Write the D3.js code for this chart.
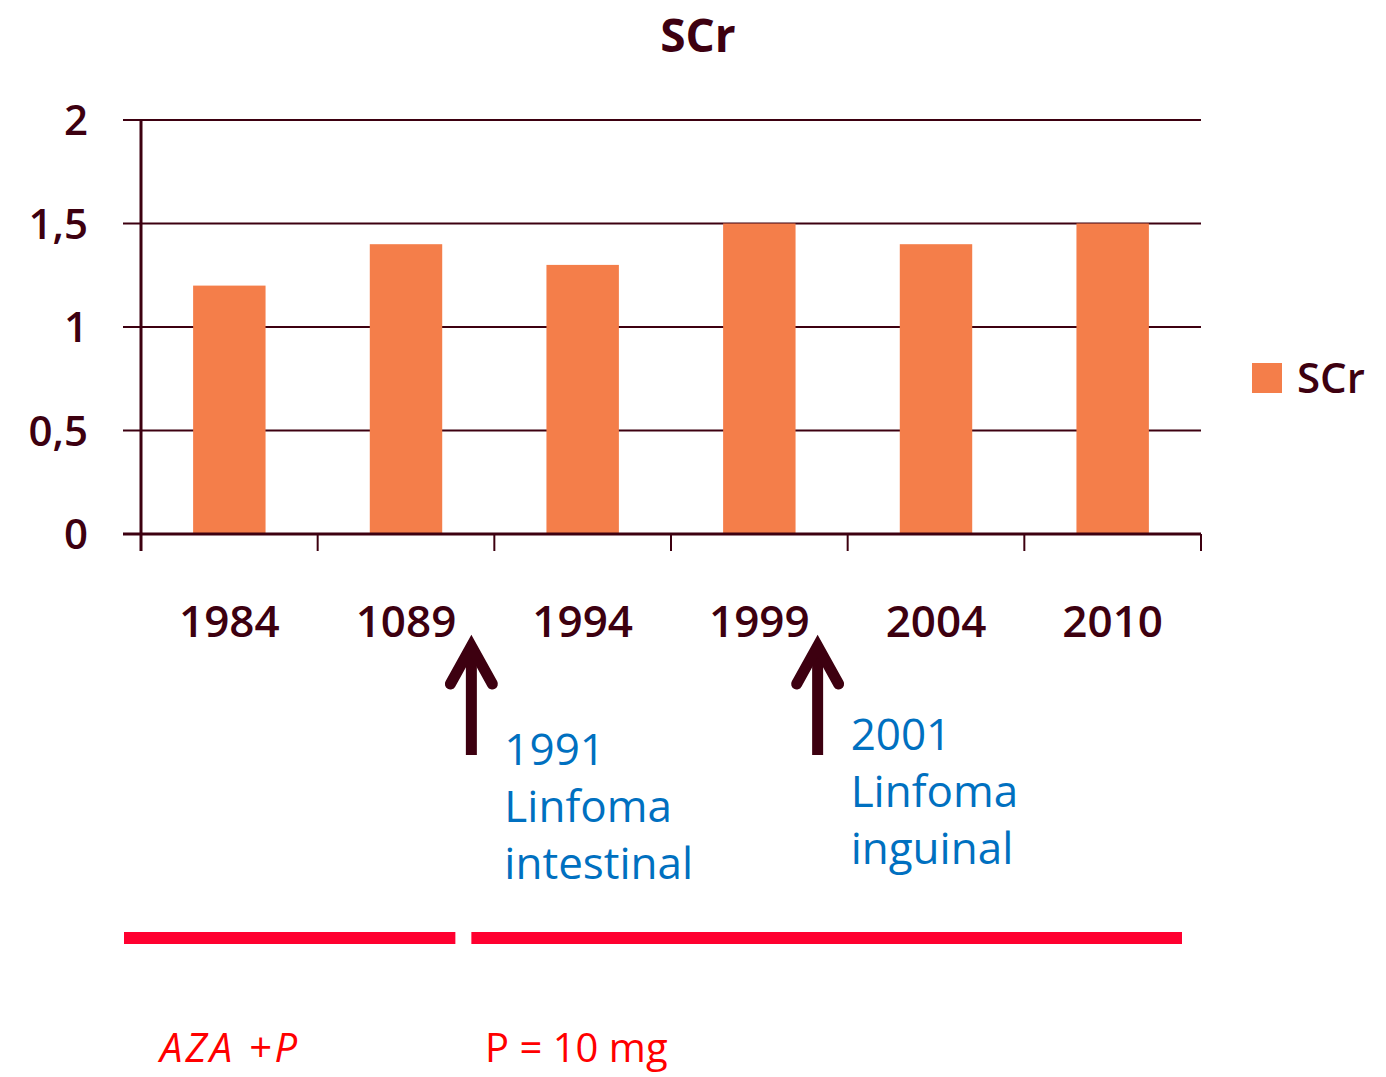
<!DOCTYPE html>
<meta charset="utf-8">
<style>
  body { margin: 0; background: #fff; }
  text { font-family: "Comic Sans MS", "Open Sans", "DejaVu Sans", sans-serif; }
</style>
<svg id="chart" width="1386" height="1077"></svg>
<script src="https://d3js.org/d3.v7.min.js"></script>
<script>
  // data
  var categories = ["1984", "1089", "1994", "1999", "2004", "2010"];
  var values = [1.2, 1.4, 1.3, 1.5, 1.4, 1.5];
  var yTicks = [0, 0.5, 1, 1.5, 2];
  var seriesName = "SCr";

  // events: placed after a category, at a fraction of its band
  var events = [
    {after: "1089", frac: 0.87, lines: ["1991", "Linfoma", "intestinal"]},
    {after: "1999", frac: 0.83, lines: ["2001", "Linfoma", "inguinal"]}
  ];
  var treatments = ["AZA +P", "P = 10 mg"];

  var dark = "#3d0010", orange = "#f47e4a", blue = "#0070c0", red = "#ff0030";

  var svg = d3.select("#chart"),
      margin = {top: 120, left: 141, right: 185},
      width = 1386 - margin.left - margin.right,
      height = 414;

  var x = d3.scaleBand().domain(categories).range([0, width]).paddingInner(0.59).paddingOuter(0.295),
      xb = d3.scaleBand().domain(categories).range([0, width]),
      y = d3.scaleLinear().domain([0, 2]).range([height, 0]);

  var g = svg.append("g").attr("transform", "translate(" + margin.left + "," + margin.top + ")");

  // title
  svg.append("text")
    .attr("x", 698).attr("y", 52)
    .attr("text-anchor", "middle")
    .style("font-size", "46px").style("font-weight", "bold")
    .attr("fill", dark)
    .text(seriesName);

  // grid
  g.selectAll(".grid").data(yTicks).enter().append("line")
    .attr("x1", -18).attr("x2", width)
    .attr("y1", function(d) { return y(d); }).attr("y2", function(d) { return y(d); })
    .attr("stroke", dark).attr("stroke-width", 2);

  // bars
  g.selectAll(".bar").data(values).enter().append("rect")
    .attr("x", function(d, i) { return x(categories[i]); })
    .attr("width", x.bandwidth())
    .attr("y", function(d) { return y(d); })
    .attr("height", function(d) { return height - y(d); })
    .attr("fill", orange);

  // axes lines
  g.append("line").attr("x1", 0).attr("x2", 0).attr("y1", 0).attr("y2", height + 17)
    .attr("stroke", dark).attr("stroke-width", 3);
  g.append("line").attr("x1", -18).attr("x2", width).attr("y1", height).attr("y2", height)
    .attr("stroke", dark).attr("stroke-width", 3);

  var bounds = categories.map(function(c) { return xb(c); }).concat([width]);
  g.selectAll(".xtick").data(bounds).enter().append("line")
    .attr("x1", function(d) { return d; }).attr("x2", function(d) { return d; })
    .attr("y1", height).attr("y2", height + 17)
    .attr("stroke", dark).attr("stroke-width", 2);

  // y labels
  g.selectAll(".ylab").data(yTicks).enter().append("text")
    .attr("x", -53).attr("y", function(d) { return y(d); })
    .attr("dy", "0.36em")
    .attr("text-anchor", "end")
    .style("font-size", "42px").style("font-weight", 600)
    .attr("fill", dark)
    .text(function(d) { return String(d).replace(".", ","); });

  // x labels
  g.selectAll(".xlab").data(categories).enter().append("text")
    .attr("x", function(d) { return xb(d) + xb.bandwidth() / 2; })
    .attr("y", height + 103)
    .attr("text-anchor", "middle")
    .style("font-size", "44px").style("font-weight", 600)
    .attr("fill", dark)
    .text(function(d) { return d; });

  // legend
  svg.append("rect").attr("x", 1252).attr("y", 363).attr("width", 30).attr("height", 30).attr("fill", orange);
  svg.append("text").attr("x", 1297).attr("y", 393)
    .style("font-size", "42px").style("font-weight", 600).attr("fill", dark).text(seriesName);

  // events
  events.forEach(function(e, k) {
    var ax = margin.left + xb(e.after) + e.frac * xb.bandwidth();
    svg.append("line").attr("x1", ax).attr("x2", ax).attr("y1", 755).attr("y2", 646)
      .attr("stroke", dark).attr("stroke-width", 11);
    svg.append("path")
      .attr("d", "M" + (ax - 21) + "," + 684 + "L" + ax + "," + 646 + "L" + (ax + 21) + "," + 684)
      .attr("fill", "none").attr("stroke", dark).attr("stroke-width", 11)
      .attr("stroke-linecap", "round").attr("stroke-linejoin", "miter");
    var t = svg.append("text")
      .attr("y", k === 0 ? 765 : 750)
      .style("font-size", "44px").attr("fill", blue);
    e.lines.forEach(function(s, i) {
      t.append("tspan").attr("x", ax + 33).attr("dy", i === 0 ? 0 : 57).text(s);
    });
  });

  // treatment periods
  var split = margin.left + xb("1089") + events[0].frac * xb.bandwidth();
  var periods = [[124, split - 16], [split, margin.left + width - 19]];
  svg.selectAll(".period").data(periods).enter().append("rect")
    .attr("x", function(d) { return d[0]; })
    .attr("width", function(d) { return d[1] - d[0]; })
    .attr("y", 932).attr("height", 12)
    .attr("fill", red);

  svg.selectAll(".treat").data(treatments).enter().append("text")
    .attr("x", function(d, i) { return i === 0 ? 160 : 485; })
    .attr("y", 1062)
    .style("font-size", "40px")
    .style("letter-spacing", function(d, i) { return i === 0 ? "3px" : "0px"; })
    .style("font-style", function(d, i) { return i === 0 ? "italic" : "normal"; })
    .attr("fill", "#ff0000")
    .text(function(d) { return d; });
</script>
